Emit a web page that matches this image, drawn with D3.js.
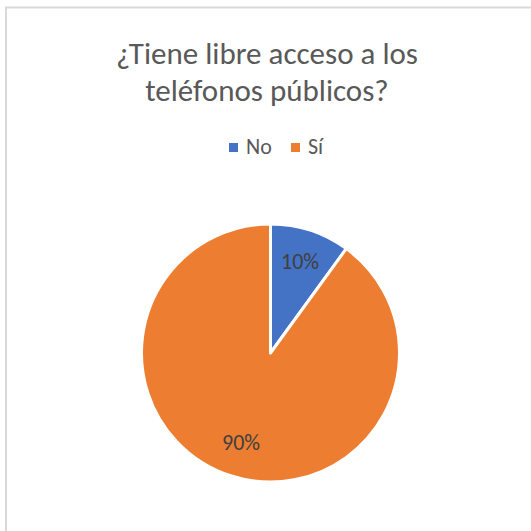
<!DOCTYPE html>
<html lang="es">
<head>
  <meta charset="UTF-8">
  <title>Teléfonos públicos</title>
  <script src="https://d3js.org/d3.v7.min.js"></script>
  <style>
    body { margin: 0; background: #fff; }
    text { font-family: Calibri, Carlito, "Open Sans", sans-serif; }
  </style>
</head>
<body>
  <div id="container"></div>
  <script>
    const categories = ['No', 'Sí']
    const values = [10, 90]
    const colors = ['#4472C4', '#ED7D31']
    const titleLines = ['¿Tiene libre acceso a los', 'teléfonos públicos?']

    const svg = d3.select('#container').append('svg')
      .attr('width', 531)
      .attr('height', 531)

    // chart frame (only left and top edges show in the crop)
    svg.append('rect')
      .attr('x', 6).attr('y', 7.5)
      .attr('width', 560).attr('height', 560)
      .attr('fill', 'none')
      .attr('stroke', '#d9d9d9')
      .attr('stroke-width', 2)

    svg.append('text')
      .attr('text-anchor', 'middle')
      .attr('fill', '#595959')
      .style('font-size', '31px')
      .style('font-weight', 300)
      .selectAll('tspan')
      .data(titleLines)
      .enter()
      .append('tspan')
        .attr('x', 267)
        .attr('y', (d, i) => 64 + i * 37)
        .text(d => d)

    // legend
    const legend = svg.append('g')
    const items = legend.selectAll('g')
      .data(categories)
      .enter()
      .append('g')
        .attr('transform', (d, i) => 'translate(' + (229 + i * 62) + ',0)')
    items.append('rect')
      .attr('x', 0).attr('y', 143)
      .attr('width', 9).attr('height', 9)
      .attr('fill', (d, i) => colors[i])
    items.append('text')
      .attr('x', 17).attr('y', 153.5)
      .attr('fill', '#595959')
      .style('font-size', '22px')
      .text(d => d)

    // pie
    const cx = 270.5, cy = 353, r = 129
    const pie = d3.pie().sort(null)
    const arcs = pie(values)
    const arc = d3.arc().innerRadius(0).outerRadius(r)
    const labelArc = d3.arc().innerRadius(r * 0.74).outerRadius(r * 0.74)

    const g = svg.append('g').attr('transform', 'translate(' + cx + ',' + cy + ')')
    g.selectAll('path')
      .data(arcs)
      .enter()
      .append('path')
        .attr('d', arc)
        .attr('fill', (d, i) => colors[i])
        .attr('stroke', '#fff')
        .attr('stroke-width', 3)
        .attr('stroke-linejoin', 'round')

    g.selectAll('text.lbl')
      .data(arcs)
      .enter()
      .append('text')
        .attr('class', 'lbl')
        .attr('transform', d => 'translate(' + labelArc.centroid(d) + ')')
        .attr('text-anchor', 'middle')
        .attr('dy', '0.3em')
        .attr('fill', '#404040')
        .style('font-size', '22px')
        .text(d => d.data + '%')
  </script>
</body>
</html>
